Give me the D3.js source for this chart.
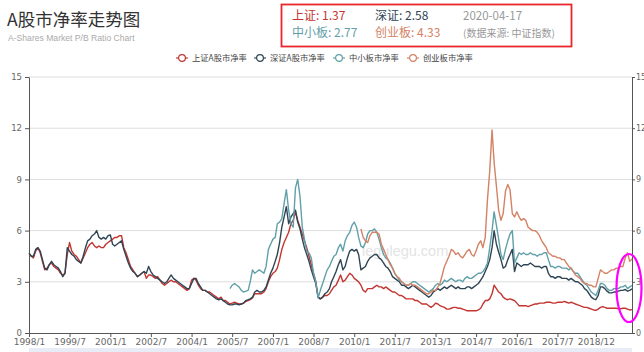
<!DOCTYPE html>
<html>
<head>
<meta charset="utf-8">
<script src="https://cdn.jsdelivr.net/npm/d3@7"></script>
<style>
  body { margin: 0; background: #fff; }
  svg { font-family: "Noto Sans CJK SC", "Noto Sans", sans-serif; }
</style>
</head>
<body>
<div id="chart"></div>
<script>
// series names / colours
const seriesNames = ["上证A股市净率", "深证A股市净率", "中小板市净率", "创业板市净率"];
const colors = ["#c23531", "#2f4554", "#61a0a8", "#d48265"];

// start month of each monthly series
const shStart = "1998/1";
const szStart = "1998/1";
const smeStart = "2005/6";
const gemStart = "2010/4";

// 上证A股 P/B, monthly
const shValues = [
  4.6, 4.5, 4.4, 4.8, 5.0, 4.7, 4.2, 3.7, 3.8, 4.0, 4.1, 3.9,
  3.8, 3.7, 3.5, 3.4, 3.5, 4.6, 5.3, 4.8, 4.6, 4.5, 4.3, 4.1,
  4.4, 4.7, 5.0, 5.2, 5.3, 5.1, 5.0, 5.1, 5.0, 5.0, 5.2, 5.3,
  5.4, 5.5, 5.6, 5.6, 5.7, 5.7, 5.0, 4.7, 4.3, 3.9, 3.7, 3.5,
  3.3, 3.4, 3.5, 3.6, 3.2, 3.4, 3.4, 3.3, 3.2, 3.3, 3.1, 2.9,
  2.8, 2.9, 3.0, 3.1, 3.0, 3.0, 2.9, 2.8, 2.7, 2.6, 2.5, 2.6,
  3.1, 3.2, 3.1, 2.8, 2.6, 2.5, 2.5, 2.4, 2.4, 2.3, 2.2, 2.1,
  2.0, 2.1, 1.9, 1.9, 1.8, 1.7, 1.75, 1.8, 1.75, 1.7, 1.7, 1.75,
  1.85, 1.9, 1.95, 2.05, 2.3, 2.3, 2.3, 2.3, 2.4, 2.6, 3.0, 3.3,
  3.5, 3.6, 3.8, 4.3, 4.9, 5.3, 5.6, 5.9, 6.4, 6.6, 7.1, 6.6,
  6.2, 5.8, 5.4, 5.0, 4.5, 4.0, 3.5, 3.0, 2.1, 2.0, 2.1, 2.2,
  2.2, 2.3, 2.5, 2.7, 2.8, 3.1, 3.4, 3.0, 3.1, 3.3, 3.5, 3.4,
  3.2, 3.1, 3.0, 2.8, 2.5, 2.4, 2.6, 2.6, 2.6, 2.7, 2.8, 2.7,
  2.7, 2.6, 2.7, 2.6, 2.5, 2.4, 2.4, 2.3, 2.2, 2.2, 2.1, 2.0,
  2.0, 2.0, 2.0, 1.9, 1.9, 1.8, 1.7, 1.7, 1.7, 1.6, 1.5, 1.6,
  1.75, 1.7, 1.6, 1.55, 1.5, 1.4, 1.4, 1.45, 1.5, 1.5, 1.45, 1.45,
  1.4, 1.35, 1.3, 1.3, 1.3, 1.3, 1.3, 1.35, 1.45, 1.7, 1.9, 1.9,
  2.0, 2.3, 2.8, 2.6, 2.4, 2.3, 2.1, 2.0, 1.95, 2.0, 1.95, 1.9,
  1.75, 1.6, 1.6, 1.6, 1.6, 1.55, 1.6, 1.65, 1.7, 1.7, 1.75, 1.75,
  1.75, 1.8, 1.8, 1.8, 1.75, 1.75, 1.8, 1.8, 1.8, 1.85, 1.8, 1.75,
  1.8, 1.75, 1.7, 1.65, 1.6, 1.55, 1.5, 1.5, 1.45, 1.4, 1.35, 1.33,
  1.4, 1.5, 1.55, 1.5, 1.45, 1.45, 1.45, 1.45, 1.45, 1.42, 1.42, 1.45,
  1.45, 1.4, 1.35, 1.37
];

// 深证A股 P/B, monthly
const szValues = [
  4.7, 4.5, 4.5, 4.9, 5.0, 4.8, 4.3, 3.8, 3.7, 4.0, 4.2, 4.0,
  3.9, 3.8, 3.6, 3.3, 3.5, 5.0, 4.8, 4.6, 4.5, 4.3, 4.2, 4.1,
  4.5, 5.0, 5.4, 5.5, 5.7, 5.8, 6.0, 5.6, 5.5, 5.6, 5.5, 5.7,
  5.75, 5.2, 5.1, 5.2, 5.3, 5.4, 4.9, 4.5, 4.1, 3.8, 3.6, 3.5,
  3.3, 3.4, 3.5, 3.6, 3.5, 3.9, 3.6, 3.4, 3.3, 3.2, 3.1, 3.0,
  2.9, 3.0, 3.2, 3.4, 3.2, 3.1, 3.0, 2.9, 2.8, 2.7, 2.6, 2.6,
  2.9, 3.2, 3.2, 2.9, 2.7, 2.5, 2.5, 2.4, 2.3, 2.2, 2.1, 2.0,
  1.95, 2.0, 1.9, 1.8, 1.7, 1.65, 1.65, 1.7, 1.7, 1.65, 1.7, 1.75,
  1.9, 1.95, 2.0, 2.1, 2.4, 2.5, 2.4, 2.4, 2.5, 2.7, 3.1, 3.5,
  3.8, 4.2, 4.6, 5.3, 6.2, 6.8, 7.4, 6.4, 6.8, 7.0, 7.2, 6.5,
  6.1, 5.5, 5.0, 4.6, 4.2, 3.7, 3.3, 2.9, 2.1, 2.0, 2.1, 2.3,
  2.4, 2.6, 3.0, 3.3, 3.6, 4.0, 4.3, 3.7, 3.9, 4.4, 4.8, 4.9,
  4.8, 4.9, 4.6, 3.7, 3.8, 3.9, 4.2, 4.4, 4.5, 4.6, 4.6, 4.4,
  4.3, 4.1, 3.9, 3.8, 3.6, 3.3, 3.2, 3.1, 3.0, 2.8, 2.8, 2.7,
  2.6, 2.7, 2.8, 2.7, 2.6, 2.5, 2.4, 2.3, 2.2, 2.1, 2.2, 2.4,
  2.5, 2.6, 2.5, 2.6, 2.7, 2.6, 2.7, 2.8, 2.7, 2.6, 2.7, 2.6,
  2.6, 2.6, 2.7, 2.7, 2.6, 2.7, 2.8, 2.9, 3.1, 3.3, 3.6, 3.9,
  4.3, 5.0, 6.0, 5.2, 4.75, 4.3, 3.8, 3.9, 4.3, 4.6, 4.9, 3.6,
  4.1, 4.0, 3.9, 4.0, 4.0, 4.0, 4.1, 4.0, 3.9, 3.9, 3.9, 3.8,
  3.9, 3.9, 3.5, 3.3, 3.3, 3.2, 3.3, 3.3, 3.2, 3.2, 3.2, 3.1,
  3.2, 3.1, 3.0, 3.0, 2.9, 2.8, 2.6, 2.5, 2.3, 2.1, 2.0, 1.95,
  2.2, 2.7, 2.7, 2.6, 2.45, 2.35, 2.35, 2.4, 2.4, 2.45, 2.5, 2.5,
  2.55, 2.45, 2.5, 2.58
];

// 中小板 P/B, monthly from 2005/6
const smeValues = [
  2.6, 2.8, 2.9, 2.8, 2.7, 2.5, 2.4,
  2.45, 2.5, 3.0, 3.7, 3.5, 3.6, 3.7, 3.6, 3.5, 3.9, 4.9, 5.2,
  5.5, 5.6, 6.4, 6.5, 6.7, 7.6, 8.4, 7.2, 6.4, 6.2, 8.5, 9.0,
  8.0, 6.2, 5.5, 4.75, 4.7, 4.4, 3.5, 3.0, 2.05, 2.5, 2.9, 3.3,
  3.7, 3.9, 4.2, 4.5, 4.6, 5.0, 5.2, 4.8, 5.4, 5.7, 5.9, 6.3,
  6.5, 6.2, 5.6, 5.1, 5.0, 5.3, 5.8, 6.0, 6.0, 6.1, 5.9, 5.5,
  5.0, 4.6, 4.4, 4.3, 4.1, 3.8, 3.5, 3.3, 3.1, 3.0, 2.9, 2.8,
  2.8, 2.9, 3.0, 3.0, 2.9, 2.8, 2.7, 2.6, 2.5, 2.4, 2.5, 2.6,
  2.8, 2.9, 2.8, 2.9, 3.1, 3.0, 3.1, 3.2, 3.1, 3.0, 3.1, 3.1,
  3.0, 3.2, 3.3, 3.2, 3.2, 3.3, 3.4, 3.5, 3.5, 3.6, 3.8, 4.1,
  5.0, 6.0, 7.1, 6.3, 5.5, 4.6, 4.3, 4.9, 5.4, 5.8, 6.0, 4.1,
  4.4, 4.7, 4.6, 4.7, 4.6, 4.6, 4.7, 4.6, 4.6, 4.5, 4.6, 4.6,
  4.7, 4.7, 4.3, 3.9, 3.9, 3.8, 3.9, 3.9, 3.8, 3.8, 3.8, 3.7,
  3.8, 3.6, 3.5, 3.5, 3.3, 3.1, 2.9, 2.8, 2.6, 2.4, 2.3, 2.2,
  2.5, 2.9, 2.9, 2.8, 2.6, 2.5, 2.5, 2.6, 2.6, 2.6, 2.7, 2.7,
  2.8, 2.6, 2.7, 2.77
];

// 创业板 P/B, monthly from 2010/4
const gemValues = [
  6.1, 5.6, 5.4, 5.3, 5.7, 5.9, 5.9, 5.9, 5.8,
  5.2, 4.9, 4.6, 4.3, 4.0, 3.8, 3.5, 3.3, 3.2, 3.0, 2.9, 2.8,
  2.8, 2.9, 2.8, 2.8, 2.7, 2.6, 2.5, 2.4, 2.3, 2.3, 2.4, 2.5,
  2.5, 2.7, 2.9, 3.4, 3.9, 4.2, 4.5, 4.9, 4.8, 4.6, 4.7, 4.5,
  4.4, 4.6, 4.8, 4.9, 4.6, 4.5, 4.8, 5.2, 5.4, 5.0, 5.6, 7.8,
  9.5, 11.9, 10.0, 8.6, 7.2, 6.6, 7.0, 8.3, 8.7, 8.4, 7.0, 6.8,
  7.1, 6.8, 6.6, 6.7, 6.6, 6.2, 6.1, 6.0, 6.0, 5.9, 5.7, 5.4,
  5.2, 5.0, 4.7, 4.6, 4.5, 4.5, 4.4, 4.4, 4.3, 4.3, 4.1, 3.9,
  3.8, 3.6, 3.4, 3.3, 3.2, 3.0, 2.9, 2.9, 2.8, 2.8, 2.7, 2.7,
  3.2, 3.7, 3.6, 3.5, 3.5, 3.6, 3.7, 3.7, 3.8, 3.8, 3.9, 3.9,
  4.4, 4.7, 4.2, 4.33
];

// axis ticks
const xTickLabels = ["1998/1", "1999/7", "2001/1", "2002/7", "2004/1", "2005/7", "2007/1",
  "2008/7", "2010/1", "2011/7", "2013/1", "2014/7", "2016/1", "2017/7", "2018/12"];
const yTicks = [0, 3, 6, 9, 12, 15];

// latest readings in the header box
const latestDate = "2020-04-17";
const latest = [1.37, 2.58, 2.77, 4.33];

const width = 644, height = 352;
const plotLeft = 29, plotRight = 632, plotTop = 77, plotBottom = 333;

const parseMonth = d3.timeParse("%Y/%m");
const toSeries = (start, values) =>
  values.map((v, i) => ({ date: d3.timeMonth.offset(parseMonth(start), i), value: v }));

const series = [
  toSeries(shStart, shValues),
  toSeries(szStart, szValues),
  toSeries(smeStart, smeValues),
  toSeries(gemStart, gemValues)
];

const svg = d3.select("#chart").append("svg")
  .attr("width", width)
  .attr("height", height);

const x = d3.scaleTime()
  .domain(d3.extent(series[0], d => d.date))
  .range([plotLeft, plotRight]);
const y = d3.scaleLinear().domain([0, 15]).range([plotBottom, plotTop]);

// title
svg.append("text").attr("x", 7).attr("y", 26)
  .attr("font-size", 17.5).attr("fill", "#333").text("A股市净率走势图");
svg.append("text").attr("x", 8).attr("y", 41)
  .attr("font-size", 8.6).attr("fill", "#aaa")
  .attr("font-family", "Liberation Sans, Arial, sans-serif")
  .text("A-Shares Market P/B Ratio Chart");

// header box with latest values
svg.append("rect").attr("x", 281.5).attr("y", 4.5).attr("width", 290).attr("height", 42)
  .attr("fill", "none").attr("stroke", "#e8262b").attr("stroke-width", 1.8);
const boxLabels = ["上证", "深证", "中小板", "创业板"];
const boxPos = [[292, 20], [375, 20], [292, 37], [375, 37]];
boxLabels.forEach((t, i) => {
  svg.append("text").attr("x", boxPos[i][0]).attr("y", boxPos[i][1])
    .attr("font-size", 12).attr("fill", colors[i])
    .text(`${t}: ${latest[i]}`);
});
svg.append("text").attr("x", 463).attr("y", 20).attr("font-size", 11.5)
  .attr("fill", "#999").text(latestDate);
svg.append("text").attr("x", 463).attr("y", 37).attr("font-size", 10)
  .attr("fill", "#999").text("(数据来源: 中证指数)");

// legend
const legendX = [176, 254, 333, 407];
const legend = svg.append("g").selectAll("g").data(seriesNames).join("g")
  .attr("transform", (d, i) => `translate(${legendX[i]},58)`);
legend.append("line").attr("x1", 0).attr("x2", 12)
  .attr("stroke", (d, i) => colors[i]).attr("stroke-width", 1.2);
legend.append("circle").attr("cx", 6).attr("r", 3.4)
  .attr("fill", "#fff").attr("stroke", (d, i) => colors[i]).attr("stroke-width", 1.2);
legend.append("text").attr("x", 16).attr("y", 3).attr("font-size", 8.3)
  .attr("fill", "#444").text(d => d);

// grid
svg.append("g").selectAll("line").data(yTicks.filter(d => d > 0)).join("line")
  .attr("x1", plotLeft).attr("x2", plotRight)
  .attr("y1", d => y(d)).attr("y2", d => y(d))
  .attr("stroke", "#ddd").attr("stroke-width", 1);

// watermark
svg.append("text").attr("x", 362).attr("y", 256).attr("font-size", 14.5)
  .attr("fill", "#e4e4e4").attr("font-family", "Liberation Sans, Arial, sans-serif")
  .text("legulegu.com");

// axes
const styleAxis = g => {
  g.select(".domain").attr("stroke", "#555");
  g.selectAll(".tick line").attr("stroke", "#555");
  g.selectAll(".tick text").attr("fill", "#666").attr("font-size", 8.5)
    .attr("font-family", "DejaVu Sans, sans-serif");
};
svg.append("g").attr("transform", `translate(${plotLeft},0)`)
  .call(d3.axisLeft(y).tickValues(yTicks).tickSize(4).tickSizeOuter(0).tickPadding(3))
  .call(styleAxis);
svg.append("g").attr("transform", `translate(${plotRight},0)`)
  .call(d3.axisRight(y).tickValues(yTicks).tickSize(3).tickSizeOuter(0).tickPadding(1))
  .call(styleAxis)
  .selectAll(".tick text").attr("font-size", 8);
svg.append("g").attr("transform", `translate(0,${plotBottom})`)
  .call(d3.axisBottom(x).tickValues(xTickLabels.map(parseMonth))
    .tickFormat(d3.timeFormat("%Y/%-m")).tickSize(4).tickSizeOuter(0).tickPadding(2))
  .call(styleAxis)
  .selectAll(".tick text").attr("font-size", 9);

// slider strip under the axis
svg.append("rect").attr("x", plotLeft).attr("y", 348).attr("width", plotRight - plotLeft).attr("height", 6)
  .attr("fill", "#e8ecf6");

// lines
const line = d3.line().x(d => x(d.date)).y(d => y(d.value));
svg.append("g").selectAll("path").data(series).join("path")
  .attr("d", line)
  .attr("fill", "none")
  .attr("stroke", (d, i) => colors[i])
  .attr("stroke-width", 1.4)
  .attr("stroke-linejoin", "round");

// magenta highlight around the latest values
svg.append("ellipse").attr("cx", 629).attr("cy", 288).attr("rx", 12.5).attr("ry", 34)
  .attr("fill", "none").attr("stroke", "#f0f").attr("stroke-width", 2.2);
</script>
</body>
</html>
